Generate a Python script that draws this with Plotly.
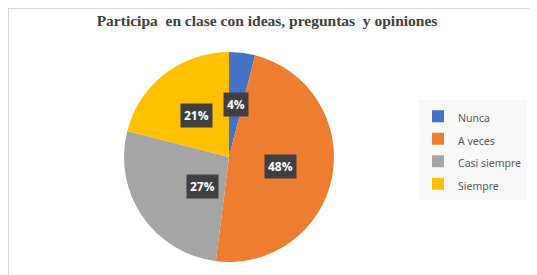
import math
import plotly.graph_objects as go

categories = ["Nunca", "A veces", "Casi siempre", "Siempre"]
values = [4, 48, 27, 21]
colors = ["#4472C4", "#ED7D31", "#A5A5A5", "#FFC000"]
title_text = "Participa\u00a0 en clase con ideas, preguntas\u00a0 y opiniones"

W, H = 537, 275
cx, cy, r = 221, 149, 105  # pie center / radius in pixels

legend_labels = [f"<span style='font-size:10.5px'>{c}</span>" for c in categories]

fig = go.Figure()
fig.add_trace(go.Pie(
    labels=legend_labels, values=values, sort=False, direction="clockwise",
    rotation=0, marker=dict(colors=colors, line=dict(width=0)),
    textinfo="none", hovertext=categories, hoverinfo="text+percent",
    domain=dict(x=[(cx - r) / W, (cx + r) / W], y=[(H - cy - r) / H, (H - cy + r) / H]),
))

# data labels placed at mid-angle of each slice
total = sum(values)
cum = 0
for v in values:
    mid = (cum + v / 2) / total * 2 * math.pi
    cum += v
    px = cx + 0.5 * r * math.sin(mid)
    py = cy - 0.5 * r * math.cos(mid)
    txt = f"<b>{round(v / total * 100)}%</b>"
    fig.add_annotation(x=px / W, y=(H - py) / H, xref="paper", yref="paper",
                       text=txt, showarrow=False, bgcolor="#404040",
                       font=dict(color="white", size=12, family="Open Sans"),
                       borderpad=3)

fig.add_shape(type="rect", xref="paper", yref="paper", x0=0, y0=0, x1=1, y1=1,
              line=dict(color="#c8c8c8", width=1.5))

fig.update_layout(
    width=W, height=H, margin=dict(l=0, r=0, t=0, b=0),
    paper_bgcolor="white", plot_bgcolor="white",
    title=dict(text=f"<b>{title_text}</b>", x=259 / W, xanchor="center",
               y=(H - 13) / H, yanchor="middle",
               font=dict(family="Liberation Serif", size=15.5, color="#404040")),
    legend=dict(x=410 / W, y=(H - 92) / H, xanchor="left", yanchor="top",
                bgcolor="#f8f8f8", font=dict(family="Noto Sans", size=15, color="#595959"),
                itemwidth=30),
    showlegend=True,
)

fig.write_html("out.html")
